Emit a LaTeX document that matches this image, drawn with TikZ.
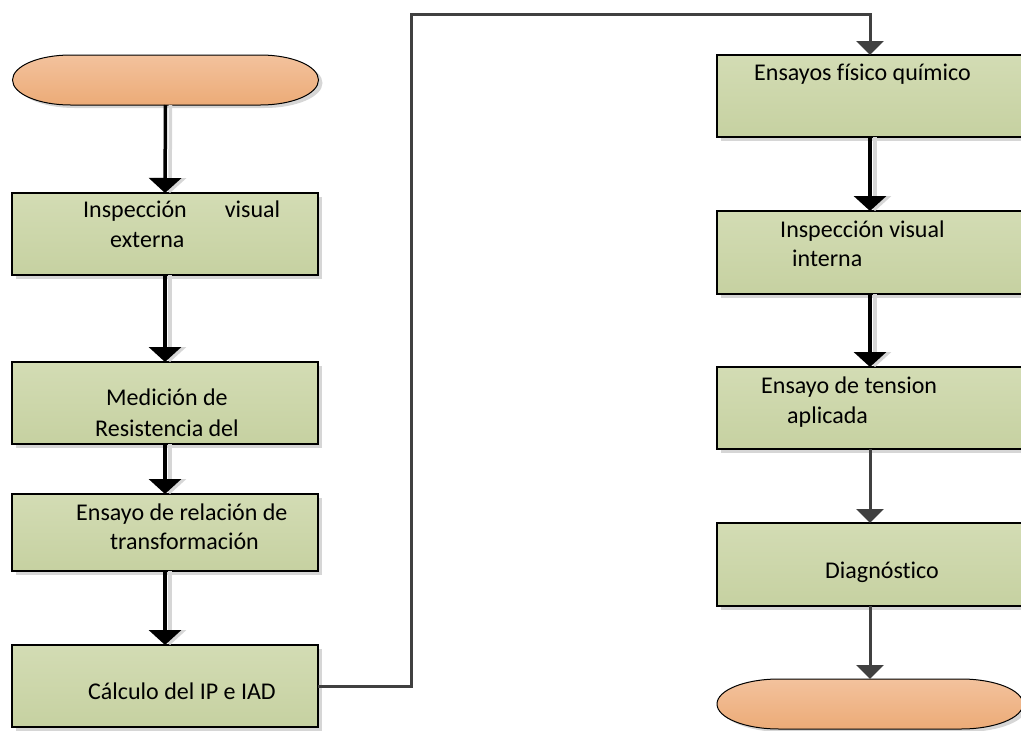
\documentclass[tikz,border=0pt]{standalone}
\usepackage{fontspec}
\setmainfont{Carlito}[Ligatures=NoCommon]
\usetikzlibrary{arrows.meta,shadows}
\definecolor{boxtop}{HTML}{D3DCB4}
\definecolor{boxbot}{HTML}{C6D1A1}
\definecolor{termtop}{HTML}{F3C29D}
\definecolor{termbot}{HTML}{ECAB77}
\definecolor{darkline}{HTML}{404040}
\definecolor{shadowgrey}{HTML}{D6D6D6}
\begin{document}
\begin{tikzpicture}[x=1pt,y=-1pt,
  procbox/.style={draw=black, line width=1.3pt, top color=boxtop, bottom color=boxbot,
    minimum width=306pt, inner sep=0pt, outer sep=0pt,
    drop shadow={shadow xshift=4pt, shadow yshift=-4pt, fill=shadowgrey, opacity=1}},
  termanchor/.style={minimum width=306pt, minimum height=50pt, inner sep=0pt, outer sep=0pt},
  termshape/.style={draw=black, line width=1pt, top color=termtop, bottom color=termbot},
  termshadow/.style={fill=shadowgrey},
  lbl/.style={anchor=base west, inner sep=0pt, font=\fontsize{24}{29}\selectfont},
  blackarrow/.style={line width=3.5pt, draw=black, -{Triangle[width=32pt,length=15pt]}},
  arrowshadow/.style={line width=3.5pt, draw=shadowgrey, -{Triangle[width=32pt,length=15pt]}},
  greyarrow/.style={line width=3pt, draw=darkline, -{Triangle[width=27pt,length=14pt]}}
]
\useasboundingbox (0,0) rectangle (1021,731);
\clip (0,0) rectangle (1021,731);

% terminator anchors
\node[termanchor] (start) at (165.5,80) {};
\node[termanchor] (finish) at (870,704) {};

% terminator shapes
\fill[termshadow] ([xshift=58pt+4pt,yshift=-3pt]start.north west) -- ([xshift=-58pt+4pt,yshift=-3pt]start.north east)
  arc[start angle=90,end angle=-90,x radius=58pt,y radius=25pt]
  -- ([xshift=58pt+4pt,yshift=-3pt]start.south west)
  arc[start angle=270,end angle=90,x radius=58pt,y radius=25pt] -- cycle;
\shade[termshape] ([xshift=58pt]start.north west) -- ([xshift=-58pt]start.north east)
  arc[start angle=90,end angle=-90,x radius=58pt,y radius=25pt]
  -- ([xshift=58pt]start.south west)
  arc[start angle=270,end angle=90,x radius=58pt,y radius=25pt] -- cycle;
\fill[termshadow] ([xshift=62pt+4pt,yshift=-3pt]finish.north west) -- ([xshift=-62pt+4pt,yshift=-3pt]finish.north east)
  arc[start angle=90,end angle=-90,x radius=62pt,y radius=25pt]
  -- ([xshift=62pt+4pt,yshift=-3pt]finish.south west)
  arc[start angle=270,end angle=90,x radius=62pt,y radius=25pt] -- cycle;
\shade[termshape] ([xshift=62pt]finish.north west) -- ([xshift=-62pt]finish.north east)
  arc[start angle=90,end angle=-90,x radius=62pt,y radius=25pt]
  -- ([xshift=62pt]finish.south west)
  arc[start angle=270,end angle=90,x radius=62pt,y radius=25pt] -- cycle;

% process boxes, left column
\node[procbox, minimum height=82pt] (b1) at (165,234) {};
\node[procbox, minimum height=82pt] (b2) at (165,403) {};
\node[procbox, minimum height=77pt] (b3) at (165,532.5) {};
\node[procbox, minimum height=82pt] (b4) at (165,686) {};
% right column
\node[procbox, minimum height=82pt] (r1) at (870,96) {};
\node[procbox, minimum height=83pt] (r2) at (870,252.5) {};
\node[procbox, minimum height=82pt] (r3) at (870,408) {};
\node[procbox, minimum height=83pt] (r4) at (870,564.5) {};

% labels
\node[lbl] (t1a) at (83,217) {\makebox[197pt][l]{Inspección\hfill visual}};
\node[lbl] (t1b) at (110,247) {externa};
\node[lbl] (t2a) at (106,405) {Medición de};
\node[lbl] (t2b) at (95,436) {Resistencia del};
\node[lbl] (t3a) at (76,520) {Ensayo de relación de};
\node[lbl] (t3b) at (110,549) {transformación};
\node[lbl] (t4) at (88,699) {Cálculo del IP e IAD};
\node[lbl] (u1) at (754,80) {Ensayos físico químico};
\node[lbl] (u2a) at (780,237) {Inspección visual};
\node[lbl] (u2b) at (792,266) {interna};
\node[lbl] (u3a) at (761,393) {Ensayo de tension};
\node[lbl] (u3b) at (787,423) {aplicada};
\node[lbl] (u4) at (825,578) {Diagnóstico};

% arrow shadows
\draw[arrowshadow] ([xshift=5pt]start.south) -- ([xshift=5pt]b1.north);
\draw[arrowshadow] ([xshift=5pt]b1.south) -- ([xshift=5pt]b2.north);
\draw[arrowshadow] ([xshift=5pt]b2.south) -- ([xshift=5pt]b3.north);
\draw[arrowshadow] ([xshift=5pt]b3.south) -- ([xshift=5pt]b4.north);
\draw[arrowshadow] ([xshift=5pt]r1.south) -- ([xshift=5pt]r2.north);
\draw[arrowshadow] ([xshift=5pt]r2.south) -- ([xshift=5pt]r3.north);

% arrows
\draw[blackarrow] (start.south) -- (b1.north);
\draw[blackarrow] (b1.south) -- (b2.north);
\draw[blackarrow] (b2.south) -- (b3.north);
\draw[blackarrow] (b3.south) -- (b4.north);
\draw[blackarrow] (r1.south) -- (r2.north);
\draw[blackarrow] (r2.south) -- (r3.north);
\draw[greyarrow] (r3.south) -- (r4.north);
\draw[greyarrow] (r4.south) -- (finish.north);

% long connector
\coordinate (c1) at (411,14);
\draw[greyarrow] (b4.east) -| (c1) -| (r1.north);
\end{tikzpicture}
\end{document}
